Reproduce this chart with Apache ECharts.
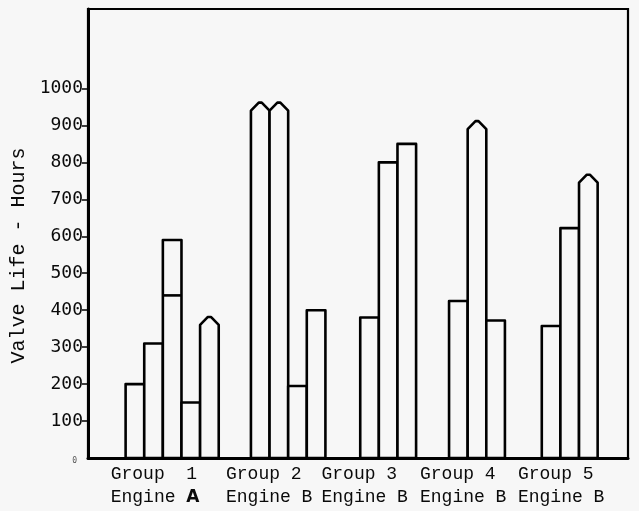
<!DOCTYPE html>
<html><head><meta charset="utf-8">
<script src="https://cdn.jsdelivr.net/npm/echarts@6/dist/echarts.min.js"></script>
<style>html,body{margin:0;padding:0;background:#f7f7f7}#c{width:639px;height:511px}</style>
</head><body><div id="c"></div>
<script>
// ---- data ----
const groupLabels = ['Group  1\nEngine {b|A}', 'Group 2\nEngine B', 'Group 3\nEngine B', 'Group 4\nEngine B', 'Group 5\nEngine B'];
const group1Values = [200, 310, 440, 150, 360];
const group2Values = [940, 940, 195, 400];
const group3Values = [380, 800, 850];
const group4Values = [425, 890, 372];
const group5Values = [357, 622, 745];
// bars drawn with a pointed top (1 = pointed)
const group1Pointed = [0, 0, 0, 0, 1];
const group2Pointed = [1, 1, 0, 0];
const group3Pointed = [0, 0, 0];
const group4Pointed = [0, 1, 0];
const group5Pointed = [0, 0, 1];
// outlined upper extension of a bar (0 = none)
const group1Upper = [0, 0, 590, 0, 0];
const yTickValues = [100, 200, 300, 400, 500, 600, 700, 800, 900, 1000];
const yLabelValues = [0, 100, 200, 300, 400, 500, 600, 700, 800, 900, 1000];

// ---- layout (bar-width units along the x axis) ----
const groupStart = [2.02, 8.75, 14.62, 19.39, 24.37];
const labelStart = [1.22, 7.41, 12.54, 17.83, 23.09];

const groupsValues = [group1Values, group2Values, group3Values, group4Values, group5Values];
const groupsPointed = [group1Pointed, group2Pointed, group3Pointed, group4Pointed, group5Pointed];
const groupsUpper = [group1Upper, [], [], [], []];

const barData = [];
groupsValues.forEach((vals, g) => {
  vals.forEach((v, i) => {
    barData.push([groupStart[g] + i, v, groupsUpper[g][i] || 0, groupsPointed[g][i]]);
  });
});

const BG = '#f7f7f7';
const chart = echarts.init(document.getElementById('c'));
chart.setOption({
  backgroundColor: BG,
  animation: false,
  grid: { left: 88, right: 11, top: 9, bottom: 53, show: true, borderColor: '#000', borderWidth: 2.2 },
  xAxis: {
    type: 'value', min: 0, max: 29,
    splitLine: { show: false },
    axisTick: { show: false },
    axisLine: { lineStyle: { color: '#000', width: 3 } },
    axisLabel: {
      customValues: labelStart,
      formatter: v => { const i = labelStart.indexOf(v); return i >= 0 ? groupLabels[i] : ''; },
      align: 'left', margin: 5, lineHeight: 23,
      fontFamily: 'Liberation Mono', fontSize: 18, color: '#0a0a0a',
      rich: { b: { fontFamily: 'DejaVu Sans', fontWeight: 'bold', fontSize: 17, color: '#0a0a0a', lineHeight: 23 } }
    }
  },
  yAxis: {
    type: 'value', min: 0, max: 1215, interval: 100,
    splitLine: { show: false },
    axisLine: { lineStyle: { color: '#000', width: 3 } },
    axisTick: { customValues: yTickValues, length: 6, lineStyle: { color: '#000', width: 1.5 } },
    axisLabel: {
      customValues: yLabelValues,
      formatter: v => v === 0 ? '{z|0}' : String(v),
      fontFamily: 'DejaVu Sans Mono', fontSize: 18, color: '#0a0a0a', margin: 5,
      rich: { z: { fontSize: 8, color: '#555', padding: [6, 6, 0, 0] } }
    },
    name: 'Valve Life - Hours', nameLocation: 'middle', nameGap: 56,
    nameTextStyle: { fontFamily: 'Liberation Mono', fontSize: 20, color: '#0a0a0a', padding: [0, 44, 0, 0] }
  },
  series: [{
    type: 'custom',
    data: barData,
    renderItem: (params, api) => {
      const x0 = api.value(0), v = api.value(1), up = api.value(2), pt = api.value(3);
      const pb = api.coord([x0, 0]);
      const pt1 = api.coord([x0 + 1, v]);
      const left = pb[0], right = pt1[0], base = pb[1], top = pt1[1];
      const mid = (left + right) / 2;
      const style = { fill: BG, stroke: '#000', lineWidth: 2.6, lineJoin: 'round' };
      const children = [];
      if (up > 0) {
        const topU = api.coord([x0, up])[1];
        children.push({ type: 'rect', shape: { x: left, y: topU, width: right - left, height: base - topU }, style });
        children.push({ type: 'line', shape: { x1: left, y1: top, x2: right, y2: top }, style: { stroke: '#000', lineWidth: 2.6 } });
      } else if (pt) {
        children.push({ type: 'polygon', shape: { points: [[left, base], [left, top], [mid - 1.5, top - 8], [mid + 1.5, top - 8], [right, top], [right, base]] }, style });
      } else {
        children.push({ type: 'rect', shape: { x: left, y: top, width: right - left, height: base - top }, style });
      }
      return { type: 'group', children };
    }
  }]
});
</script>
</body></html>
